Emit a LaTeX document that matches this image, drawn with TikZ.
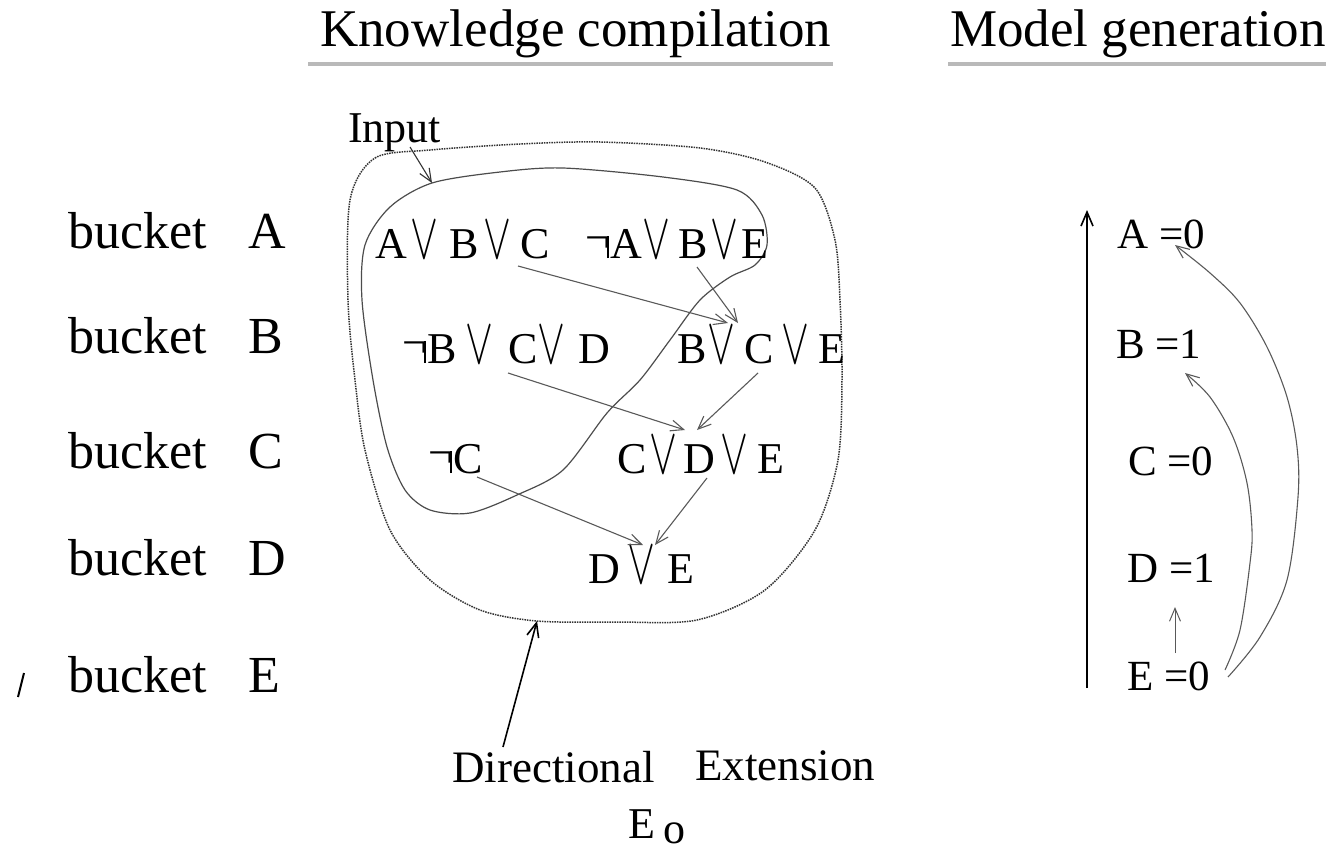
\RequirePackage{fix-cm}
\documentclass[tikz,border=0pt]{standalone}
\usepackage{fontspec}
\setmainfont{Liberation Serif}
\usetikzlibrary{arrows.meta,calc}
\newcommand{\orv}[2]{\hspace{#1pt}\scalebox{0.95}[1.5]{$\vee$}\hspace{#2pt}}
\newcommand{\nt}{\raisebox{6pt}{¬}\hspace{-3.1pt}\rule{1.8pt}{22pt}\hspace{1.3pt}}
\begin{document}
\begin{tikzpicture}[x=1pt,y=-1pt,
  bucketlbl/.style={font=\fontsize{52}{60}\selectfont, anchor=base west, inner sep=0pt},
  titlelbl/.style={font=\fontsize{53}{62}\selectfont, anchor=base west, inner sep=0pt},
  clause/.style={font=\fontsize{44}{52}\selectfont, anchor=base west, inner sep=0pt},
  asg/.style={font=\fontsize{43}{50}\selectfont, anchor=base west, inner sep=0pt},
  note/.style={font=\fontsize{45}{52}\selectfont, anchor=base west, inner sep=0pt},
  underline/.style={draw=gray!55, line width=4pt},
  res/.style={draw=gray!70!black, line width=1.1pt, -{Straight Barb[length=13pt,width=11pt]}},
  boldarrow/.style={draw=black, line width=1.6pt, -{Straight Barb[length=14pt,width=12pt]}},
  region/.style={draw=black!80, line width=1.5pt, densely dotted},
  inputloop/.style={draw=black!70, line width=1.2pt}]
\useasboundingbox (0,0) rectangle (1326,852);

% titles
\node[titlelbl] (t1) at (320,46) {Knowledge compilation};
\node[titlelbl] (t2) at (950,46) {Model generation};
\draw[underline] (308,64) -- (833,64);
\draw[underline] (948,64) -- (1326,64);

% bucket labels
\node[bucketlbl] (bA) at (68,248) {\makebox[180pt][l]{bucket}A};
\node[bucketlbl] (bB) at (68,353) {\makebox[180pt][l]{bucket}B};
\node[bucketlbl] (bC) at (68,468) {\makebox[180pt][l]{bucket}C};
\node[bucketlbl] (bD) at (68,575) {\makebox[180pt][l]{bucket}D};
\node[bucketlbl] (bE) at (68,692) {\makebox[180pt][l]{bucket}E};
\draw[line width=2pt] (18,697) -- (24,673);

% regions
\coordinate (ip) at (432,183);
\coordinate (dp) at (537,621);
\draw[region] plot[smooth cycle] coordinates {(350,200) (375,158) (430,150) (520,144) (600,142) (700,148) (765,162) (815,188) (835,240) (840,300) (842,380) (838,460) (815,530) (765,590) (697,620) (617,622) (dp) (480,610) (430,580) (390,530) (365,450) (355,380) (348,300)};
\draw[inputloop] plot[smooth cycle] coordinates {(ip) (500,172) (563,168) (663,177) (737,190) (762,215) (767,245) (755,265) (730,277) (700,300) (670,340) (640,380) (607,413) (563,470) (517,495) (470,513) (430,510) (405,490) (387,447) (373,380) (362,300) (365,245) (390,207)};

% clauses
\node[clause] (c1) at (375,258) {A\orv{4}{11}B\orv{4}{9}C};
\node[clause] (c2) at (585,258) {\nt A\orv{1}{8}B\orv{2}{4}E};
\node[clause] (c3) at (402,363) {\nt B\orv{9}{15}C\orv{0}{13}D};
\node[clause] (c4) at (677,363) {B\orv{1}{9}C\orv{8}{9}E};
\node[clause] (c5) at (428,473) {\nt C};
\node[clause] (c6) at (617,473) {C\orv{3}{6}D\orv{5}{9}E};
\node[clause] (c7) at (588,583) {D\orv{8}{12}E};

% resolvent arrows
\draw[res] ($(c1.base west)+(143,8)$) -- ($(c4.base west)+(51,-40)$);
\draw[res] ($(c2.base west)+(112,9)$) -- ($(c4.base west)+(61,-40)$);
\draw[res] ($(c3.base west)+(106,10)$) -- ($(c6.base west)+(68,-43)$);
\draw[res] ($(c4.base west)+(81,10)$) -- ($(c6.base west)+(80,-43)$);
\draw[res] ($(c5.base west)+(49,4)$) -- ($(c7.base west)+(55,-38)$);
\draw[res] ($(c6.base west)+(90,5)$) -- ($(c7.base west)+(67,-38)$);

% input label
\node[note, font=\fontsize{44}{50}\selectfont] (inp) at (348,142) {Input};
\draw[res, draw=black!80] ($(inp.base west)+(62,5)$) -- (ip);

% directional extension
\node[note] (dir) at (452,782) {Directional};
\node[note] (ext) at (695,780) {Extension};
\node[note, font=\fontsize{44}{50}\selectfont] (eo) at (628,838) {E\hspace{8pt}\raisebox{-5pt}{o}};
\draw[boldarrow] ($(dir.base west)+(51,-35)$) -- (dp);

% model generation
\node[asg] (a1) at (1117,248) {A =0};
\node[asg] (a2) at (1116,358) {B =1};
\node[asg] (a3) at (1128,475) {C =0};
\node[asg] (a4) at (1127,582) {D =1};
\node[asg] (a5) at (1127,690) {E =0};
\coordinate (vbot) at (1087,688);
\coordinate (vtop) at (1087,210);
\draw[boldarrow] (vbot) -- (vtop);
\draw[res, line width=1pt] ($(a5.base west)+(48,-37)$) -- ($(a4.base west)+(48,25)$);
\coordinate (eb0) at ($(a5.base west)+(98,-20)$);
\coordinate (eb1) at ($(a2.base west)+(69,15)$);
\coordinate (ea0) at ($(a5.base west)+(101,-13)$);
\coordinate (ea1) at ($(a1.base west)+(58,-3)$);
\draw[res] plot[smooth, tension=0.55] coordinates {(eb0) (1240,630) (1250,563) (1252,530) (1247,483) (1233,437) (1210,397) (eb1)};
\draw[res] plot[smooth, tension=0.55] coordinates {(ea0) (1260,637) (1287,580) (1298,497) (1297,447) (1287,397) (1267,347) (1240,303) (1210,273) (ea1)};
\end{tikzpicture}
\end{document}
